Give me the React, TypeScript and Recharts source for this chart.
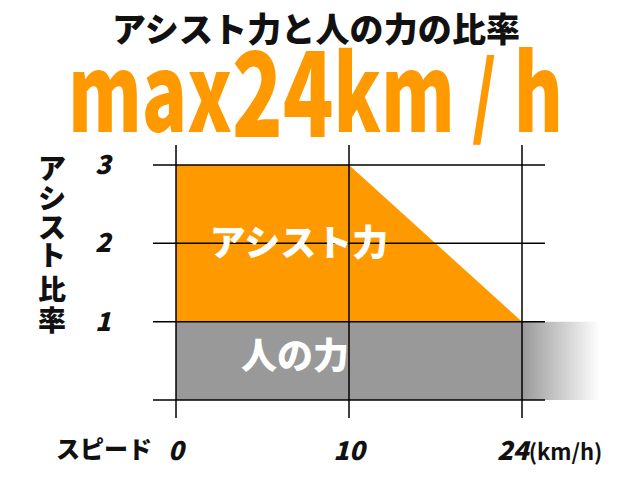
import React from "react";
import {
  ComposedChart,
  Area,
  XAxis,
  YAxis,
  ReferenceLine,
  ReferenceArea,
} from "recharts";

const speedLabels = ["0", "10", "24"];
const humanRatio = [1, 1, 1];
const assistRatio = [2, 2, 0];
const yTicks = [1, 2, 3];
const gridYValues = [0, 1, 2, 3];

const data = speedLabels.map((s, i) => ({
  idx: i,
  speed: s,
  human: humanRatio[i],
  assist: assistRatio[i],
}));

const FONT = "'Noto Sans CJK JP', 'Noto Sans', sans-serif";
const ORANGE = "#ff9900";
const GRAY = "#999999";

const XTick = (props: any) => {
  const { x, y, payload } = props;
  const label = speedLabels[payload.value] ?? "";
  if (payload.value === speedLabels.length - 1) {
    return (
      <text x={x - 25} y={y} dy="0.35em" textAnchor="start" fontFamily={FONT} fontWeight={900} fontSize={26} fontStyle="italic" fill="#111">
        {label}
        <tspan fontSize={22} fontWeight={700} fontStyle="normal">(km/h)</tspan>
      </text>
    );
  }
  return (
    <text x={x} y={y} dy="0.35em" textAnchor="middle" fontFamily={FONT} fontWeight={900} fontSize={26} fontStyle="italic" fill="#111">
      {label}
    </text>
  );
};

const YTick = (props: any) => {
  const { x, y, payload } = props;
  return (
    <text x={x} y={y} dy="0.35em" textAnchor="middle" fontFamily={FONT} fontWeight={900} fontSize={26} fontStyle="italic" fill="#111">
      {payload.value}
    </text>
  );
};

const yLabelChars = ["ア", "シ", "ス", "ト", "比", "率"];
const yLabelYs = [169, 199, 228, 256, 290, 321];

export default function App() {
  return (
    <div style={{ position: "absolute", left: 0, top: 0, width: 640, height: 480, background: "#fff" }}>
      <ComposedChart
        width={640}
        height={480}
        data={data}
        margin={{ top: 145, right: 31.5, bottom: 0, left: 93 }}
      >
        <defs>
          <linearGradient id="fade" x1="0" y1="0" x2="1" y2="0">
            <stop offset="0%" stopColor={GRAY} stopOpacity={1} />
            <stop offset="100%" stopColor="#ffffff" stopOpacity={1} />
          </linearGradient>
        </defs>
        <XAxis
          type="number"
          dataKey="idx"
          domain={[-0.133, 2.5]}
          ticks={[0, 1, 2]}
          allowDataOverflow
          axisLine={false}
          tickLine={false}
          tickSize={0}
          tickMargin={33}
          height={62}
          tick={<XTick />}
        />
        <YAxis
          type="number"
          domain={[-0.23, 3.255]}
          ticks={yTicks}
          allowDataOverflow
          axisLine={false}
          tickLine={false}
          tickSize={0}
          tickMargin={50}
          width={60}
          tick={<YTick />}
        />
        <Area
          type="linear"
          dataKey="human"
          stackId="a"
          fill={GRAY}
          fillOpacity={1}
          stroke="none"
          isAnimationActive={false}
        />
        <Area
          type="linear"
          dataKey="assist"
          stackId="a"
          fill={ORANGE}
          fillOpacity={1}
          stroke="none"
          isAnimationActive={false}
        />
        <ReferenceArea x1={2} x2={2.45} y1={0} y2={1} fill="url(#fade)" fillOpacity={1} stroke="none" />
        {gridYValues.map((v) => (
          <ReferenceLine
            key={"h" + v}
            segment={[{ x: -0.133, y: v }, { x: 2.133, y: v }]}
            stroke="#000"
            strokeWidth={1.5}
          />
        ))}
        {[0, 1, 2].map((v) => (
          <ReferenceLine key={"v" + v} x={v} stroke="#000" strokeWidth={1.5} />
        ))}
      </ComposedChart>
      <svg
        width={640}
        height={480}
        style={{ position: "absolute", left: 0, top: 0, pointerEvents: "none" }}
      >
        <text x={316} y={30} dy="0.35em" textAnchor="middle" fontFamily={FONT} fontWeight={900} fontSize={34} fill="#111" textLength={408} lengthAdjust="spacing">
          アシスト力と人の力の比率
        </text>
        <text x={68} y={132} fontFamily={FONT} fontWeight={900} fill={ORANGE} textLength={495} lengthAdjust="spacingAndGlyphs">
          <tspan fontSize={106}>max</tspan>
          <tspan fontSize={118} dy={5}>24</tspan>
          <tspan fontSize={106} dy={-5}>km </tspan>
          <tspan fontSize={90} dy={-4}>/</tspan>
          <tspan fontSize={106} dy={4}> h</tspan>
        </text>
        {yLabelChars.map((c, i) => (
          <text key={c + i} x={52} y={yLabelYs[i]} dy="0.35em" textAnchor="middle" fontFamily={FONT} fontWeight={900} fontSize={28} fill="#111">
            {c}
          </text>
        ))}
        <text x={104} y={450} dy="0.35em" textAnchor="middle" fontFamily={FONT} fontWeight={900} fontSize={24} fill="#111">
          スピード
        </text>
        <text x={299} y={243} dy="0.35em" textAnchor="middle" fontFamily={FONT} fontWeight={900} fontSize={36} fill="#fff">
          アシスト力
        </text>
        <text x={295} y={356} dy="0.35em" textAnchor="middle" fontFamily={FONT} fontWeight={900} fontSize={36} fill="#fff">
          人の力
        </text>
      </svg>
    </div>
  );
}
